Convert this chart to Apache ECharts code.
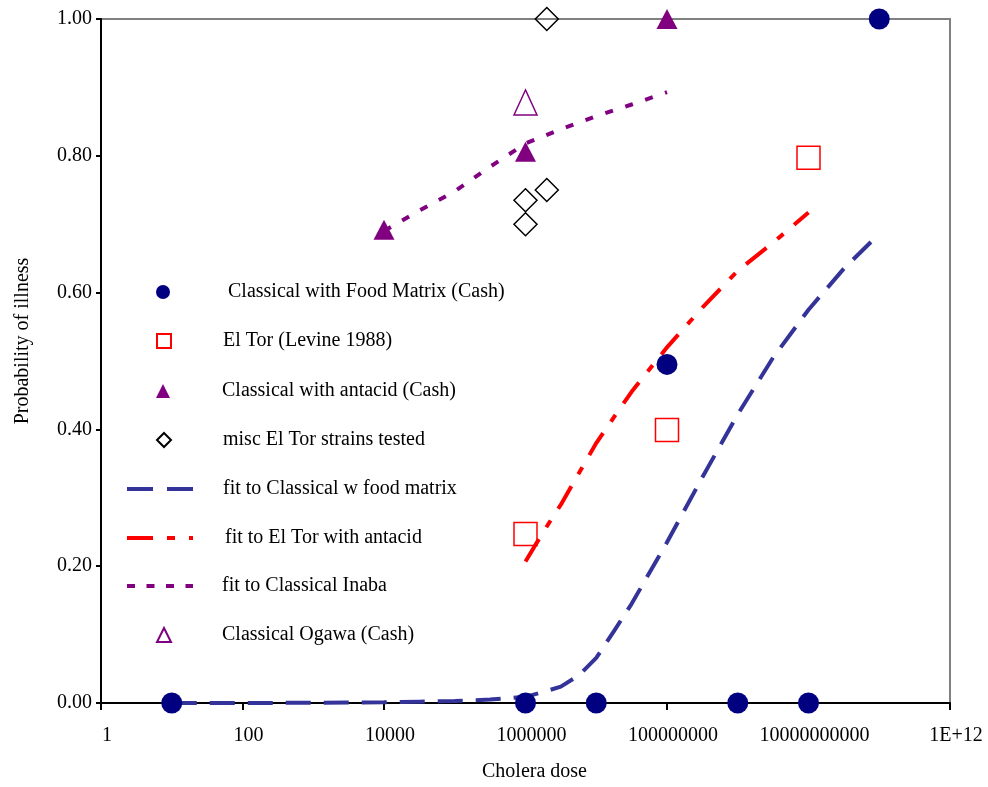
<!DOCTYPE html>
<html>
<head>
<meta charset="utf-8">
<script src="https://cdn.jsdelivr.net/npm/echarts@6/dist/echarts.min.js"></script>
<style>
html,body{margin:0;padding:0;background:#fff;}
#chart{width:988px;height:787px;}
</style>
</head>
<body>
<div id="chart"></div>
<script>
// ---- data ----
const xTickLabels = ['1', '100', '10000', '1000000', '100000000', '10000000000', '1E+12'];
const yTickLabels = ['0.00', '0.20', '0.40', '0.60', '0.80', '1.00'];

const foodMatrixDose = [10, 1e6, 1e7, 1e8, 1e9, 1e10, 1e11];
const foodMatrixProb = [0, 0, 0, 0.495, 0, 0, 1.0];

const elTorDose = [1e6, 1e8, 1e10];
const elTorProb = [0.247, 0.399, 0.797];

const antacidDose = [1e4, 1e6, 1e8];
const antacidProb = [0.692, 0.806, 1.0];

const miscDose = [1e6, 1e6, 2e6, 2e6];
const miscProb = [0.70, 0.735, 0.75, 1.0];

const ogawaDose = [1e6];
const ogawaProb = [0.878];

const fitFoodDose = [10, 100, 1000, 1e4, 3.16e4, 1e5, 3.16e5, 1e6, 1.78e6, 3.16e6, 5.62e6, 1e7, 1.78e7, 3.16e7, 5.62e7, 1e8, 3.16e8, 1e9, 3.16e9, 1e10, 3.16e10, 1e11];
const fitFoodProb = [0, 0, 0.0003, 0.001, 0.002, 0.003, 0.005, 0.009, 0.016, 0.024, 0.04, 0.066, 0.105, 0.145, 0.19, 0.235, 0.33, 0.422, 0.505, 0.575, 0.635, 0.686];

const fitElTorDose = [1e6, 1.78e6, 3.16e6, 5.62e6, 1e7, 1.78e7, 3.16e7, 1e8, 3.16e8, 1e9, 3.16e9, 1e10];
const fitElTorProb = [0.207, 0.25, 0.29, 0.335, 0.38, 0.418, 0.455, 0.52, 0.578, 0.632, 0.673, 0.717];

const fitInabaDose = [1e4, 3.16e4, 1e5, 3.16e5, 1e6, 3.16e6, 1e7, 3.16e7, 1e8];
const fitInabaProb = [0.69, 0.72, 0.748, 0.784, 0.818, 0.839, 0.858, 0.875, 0.893];

const seriesNames = [
  'Classical with Food Matrix (Cash)',
  'El Tor (Levine 1988)',
  'Classical with antacid (Cash)',
  'misc El Tor strains tested',
  'fit to Classical w food matrix',
  'fit to El Tor with antacid',
  'fit to Classical Inaba',
  'Classical Ogawa (Cash)'
];
const isLineEntry = [false, false, false, false, true, true, true, false];

function pairs(xs, ys) { return xs.map((x, i) => [x, ys[i]]); }

const FONT = 'Liberation Serif';
const chart = echarts.init(document.getElementById('chart'), null, {renderer: 'canvas'});

const lineStyles = {
  'fit to Classical w food matrix': {color: '#333399', width: 4, type: [26, 14]},
  'fit to El Tor with antacid': {color: '#ff0000', width: 4, type: [26, 14, 8, 14]},
  'fit to Classical Inaba': {color: '#800080', width: 4, type: [8, 11.5]}
};

// legend layout (one legend component per row so each icon keeps its own shape)
const rowCenters = [291, 340, 390, 439, 488, 537, 585, 634];
const textLefts = [228, 222, 222, 222, 221, 223, 220, 221];
const legends = seriesNames.map((n, i) => {
  const line = isLineEntry[i];
  const left = line ? 125 : 156;
  const w = line ? 66 : 14;
  const pad = textLefts[i] - (left + w + 5);
  const lg = {
    orient: 'vertical', left: left, top: rowCenters[i] - 9, padding: 0,
    itemWidth: w, itemHeight: 14, selectedMode: false,
    textStyle: {fontFamily: FONT, fontSize: 20, color: '#000', lineHeight: 20, padding: [0, 0, 0, pad]},
    data: [n]
  };
  if (line) {
    lg.itemStyle = {opacity: 0};
    lg.lineStyle = Object.assign({}, lineStyles[n]);
  }
  return lg;
});

const option = {
  backgroundColor: '#ffffff',
  animation: false,
  grid: {
    left: 101, right: 38, top: 19, bottom: 83,
    show: true, borderColor: '#808080', borderWidth: 2, backgroundColor: 'transparent'
  },
  xAxis: {
    type: 'log', logBase: 10, min: 1, max: 1e12, interval: 2,
    name: 'Cholera dose', nameLocation: 'middle', nameGap: 59,
    nameTextStyle: {fontFamily: FONT, fontSize: 20, color: '#000', padding: [0, 0, 0, 18]},
    axisLine: {show: true, onZero: false, lineStyle: {color: '#000', width: 2}},
    axisTick: {show: true, inside: false, length: 7, lineStyle: {color: '#000', width: 2}},
    minorTick: {show: false},
    splitLine: {show: false},
    axisLabel: {
      fontFamily: FONT, fontSize: 20, color: '#000', margin: 23, padding: [0, 0, 0, 12],
      formatter: function (v) {
        const i = Math.round(Math.log10(v) / 2);
        return xTickLabels[i] !== undefined ? xTickLabels[i] : '';
      }
    }
  },
  yAxis: {
    type: 'value', min: 0, max: 1, interval: 0.2,
    axisLine: {show: true, lineStyle: {color: '#000', width: 2}},
    axisTick: {show: true, inside: false, length: 5, lineStyle: {color: '#000', width: 2}},
    splitLine: {show: false},
    axisLabel: {
      fontFamily: FONT, fontSize: 20, color: '#000', margin: 9,
      formatter: function (v) { return yTickLabels[Math.round(v / 0.2)]; }
    }
  },
  legend: legends,
  graphic: [{
    type: 'text', x: 23, y: 341, rotation: Math.PI / 2,
    style: {text: 'Probability of illness', font: '20px "Liberation Serif"', fill: '#000',
            align: 'center', verticalAlign: 'middle'}
  }],
  series: [
    {
      name: seriesNames[4], type: 'line', symbol: 'none', smooth: false, z: 2,
      data: pairs(fitFoodDose, fitFoodProb),
      itemStyle: {color: '#333399'},
      lineStyle: {color: '#333399', width: 4, type: [25, 13]}
    },
    {
      name: seriesNames[5], type: 'line', symbol: 'none', smooth: false, z: 2,
      data: pairs(fitElTorDose, fitElTorProb),
      itemStyle: {color: '#ff0000'},
      lineStyle: {color: '#ff0000', width: 4, type: [26, 14, 8, 14]}
    },
    {
      name: seriesNames[6], type: 'line', symbol: 'none', smooth: false, z: 2,
      data: pairs(fitInabaDose, fitInabaProb),
      itemStyle: {color: '#800080'},
      lineStyle: {color: '#800080', width: 4, type: [8, 13]}
    },
    {
      name: seriesNames[0], type: 'scatter', symbol: 'circle', symbolSize: 21, clip: false, z: 3,
      data: pairs(foodMatrixDose, foodMatrixProb),
      itemStyle: {color: '#000080', opacity: 1}
    },
    {
      name: seriesNames[1], type: 'scatter', symbol: 'rect', symbolSize: 23, clip: false, z: 3,
      data: pairs(elTorDose, elTorProb),
      itemStyle: {color: 'rgba(255,255,255,0)', borderColor: '#ff0000', borderWidth: 1.5, opacity: 1}
    },
    {
      name: seriesNames[2], type: 'scatter', symbol: 'triangle', symbolSize: [21, 20], clip: false, z: 3,
      data: pairs(antacidDose, antacidProb),
      itemStyle: {color: '#800080', opacity: 1}
    },
    {
      name: seriesNames[3], type: 'scatter', symbol: 'diamond', symbolSize: 23, clip: false, z: 3,
      data: pairs(miscDose, miscProb),
      itemStyle: {color: 'rgba(255,255,255,0)', borderColor: '#000000', borderWidth: 1.5, opacity: 1}
    },
    {
      name: seriesNames[7], type: 'scatter', symbol: 'triangle', symbolSize: [23, 25], clip: false, z: 3,
      data: pairs(ogawaDose, ogawaProb),
      itemStyle: {color: 'rgba(255,255,255,0)', borderColor: '#800080', borderWidth: 1.5, opacity: 1}
    }
  ]
};
chart.setOption(option);
</script>
</body>
</html>
